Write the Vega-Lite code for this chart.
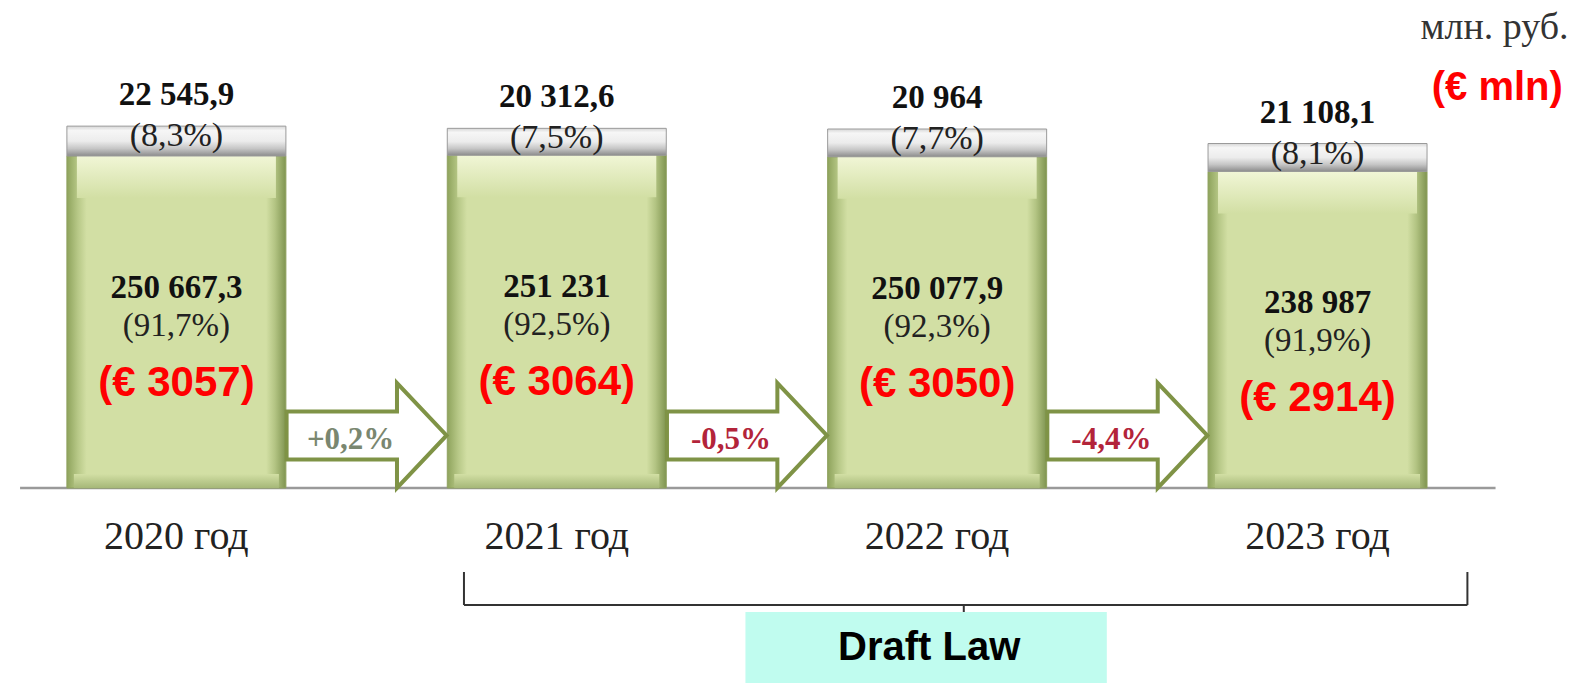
{
  "$schema": "https://vega.github.io/schema/vega-lite/v6.json",
  "width": 1581,
  "height": 683,
  "padding": 0,
  "autosize": {"type": "fit", "contains": "padding"},
  "background": "white",
  "config": {"view": {"stroke": null}},
  "datasets": {
    "bars": [
      {"year": "2020 год", "idx": 0, "main": 250667.3, "other": 22545.9, "total": 273213.2, "main_label": "250 667,3", "main_pct": "(91,7%)", "eur": "(€ 3057)", "other_label": "22 545,9", "other_pct": "(8,3%)"},
      {"year": "2021 год", "idx": 1, "main": 251231, "other": 20312.6, "total": 271543.6, "main_label": "251 231", "main_pct": "(92,5%)", "eur": "(€ 3064)", "other_label": "20 312,6", "other_pct": "(7,5%)"},
      {"year": "2022 год", "idx": 2, "main": 250077.9, "other": 20964, "total": 271041.9, "main_label": "250 077,9", "main_pct": "(92,3%)", "eur": "(€ 3050)", "other_label": "20 964", "other_pct": "(7,7%)"},
      {"year": "2023 год", "idx": 3, "main": 238987, "other": 21108.1, "total": 260095.1, "main_label": "238 987", "main_pct": "(91,9%)", "eur": "(€ 2914)", "other_label": "21 108,1", "other_pct": "(8,1%)"}
    ],
    "changes": [
      {"gap": 0.5, "change": "+0,2%", "dir": "up"},
      {"gap": 1.5, "change": "-0,5%", "dir": "down"},
      {"gap": 2.5, "change": "-4,4%", "dir": "down"}
    ],
    "one": [{"note": "annotation"}]
  },
  "layer": [
    {
      "data": {"name": "one"},
      "mark": {"type": "rule", "color": "#9a9a9a", "strokeWidth": 2.5},
      "encoding": {
        "x": {"datum": -0.411, "type": "quantitative", "scale": {"domain": [-0.4506, 3.6795], "nice": false, "zero": false}, "axis": null},
        "x2": {"datum": 3.468},
        "y": {"datum": 0, "type": "quantitative", "scale": {"domain": [-147225, 368440], "nice": false, "zero": false}, "axis": null}
      }
    },
    {
      "data": {"name": "one"},
      "mark": {"type": "rule", "color": "#333333", "strokeWidth": 2},
      "encoding": {
        "x": {"datum": 0.756, "type": "quantitative", "axis": null},
        "y": {"datum": -63420, "type": "quantitative", "axis": null},
        "y2": {"datum": -88335}
      }
    },
    {
      "data": {"name": "one"},
      "mark": {"type": "rule", "color": "#333333", "strokeWidth": 2},
      "encoding": {
        "x": {"datum": 3.394, "type": "quantitative", "axis": null},
        "y": {"datum": -63420, "type": "quantitative", "axis": null},
        "y2": {"datum": -88335}
      }
    },
    {
      "data": {"name": "one"},
      "mark": {"type": "rule", "color": "#333333", "strokeWidth": 2},
      "encoding": {
        "x": {"datum": 0.756, "type": "quantitative", "axis": null},
        "x2": {"datum": 3.394},
        "y": {"datum": -88335, "type": "quantitative", "axis": null}
      }
    },
    {
      "data": {"name": "one"},
      "mark": {"type": "rule", "color": "#333333", "strokeWidth": 2},
      "encoding": {
        "x": {"datum": 2.07, "type": "quantitative", "axis": null},
        "y": {"datum": -88335, "type": "quantitative", "axis": null},
        "y2": {"datum": -95130}
      }
    },
    {
      "data": {"name": "one"},
      "mark": {"type": "rect", "color": "#c0fcef"},
      "encoding": {
        "x": {"datum": 1.496, "type": "quantitative", "axis": null},
        "x2": {"datum": 2.446},
        "y": {"datum": -93620, "type": "quantitative", "axis": null},
        "y2": {"datum": -147225}
      }
    },
    {
      "data": {"name": "one"},
      "mark": {"type": "text", "text": "Draft Law", "font": "Liberation Sans", "fontWeight": "bold", "fontSize": 40, "color": "#000000", "align": "center", "baseline": "middle"},
      "encoding": {
        "x": {"datum": 1.979, "type": "quantitative", "axis": null},
        "y": {"datum": -120800, "type": "quantitative", "axis": null}
      }
    },
    {
      "data": {"name": "one"},
      "mark": {"type": "text", "text": "млн. руб.", "font": "Liberation Serif", "fontSize": 38, "color": "#333333", "align": "right", "baseline": "middle"},
      "encoding": {
        "x": {"datum": 3.66, "type": "quantitative", "axis": null},
        "y": {"datum": 347300, "type": "quantitative", "axis": null}
      }
    },
    {
      "data": {"name": "one"},
      "mark": {"type": "text", "text": "(€ mln)", "font": "Liberation Sans", "fontWeight": "bold", "fontSize": 40, "color": "#ff0000", "align": "right", "baseline": "middle"},
      "encoding": {
        "x": {"datum": 3.645, "type": "quantitative", "axis": null},
        "y": {"datum": 302000, "type": "quantitative", "axis": null}
      }
    },
    {
      "data": {"name": "bars"},
      "mark": {"type": "bar", "orient": "vertical", "width": 219, "stroke": "#8fa15f", "strokeWidth": 1,
        "fill": {"gradient": "linear", "x1": 0, "y1": 0, "x2": 1, "y2": 0,
          "stops": [{"offset": 0, "color": "#8ea35c"}, {"offset": 0.05, "color": "#b7c887"}, {"offset": 0.09, "color": "#d2dfa4"}, {"offset": 0.91, "color": "#d2dfa4"}, {"offset": 0.95, "color": "#b3c483"}, {"offset": 1, "color": "#7f9450"}]}},
      "encoding": {
        "x": {"field": "idx", "type": "quantitative", "axis": null},
        "y": {"field": "main", "type": "quantitative", "axis": null},
        "y2": {"datum": 0}
      }
    },
    {
      "data": {"name": "bars"},
      "mark": {"type": "bar", "orient": "vertical", "width": 199, "y2Offset": 42,
        "fill": {"gradient": "linear", "x1": 0, "y1": 0, "x2": 0, "y2": 1,
          "stops": [{"offset": 0, "color": "#f1f6d6"}, {"offset": 1, "color": "#d2dfa4"}]}},
      "encoding": {
        "x": {"field": "idx", "type": "quantitative", "axis": null},
        "y": {"field": "main", "type": "quantitative", "axis": null},
        "y2": {"field": "main"}
      }
    },
    {
      "data": {"name": "bars"},
      "mark": {"type": "bar", "orient": "vertical", "width": 205, "yOffset": -14,
        "fill": {"gradient": "linear", "x1": 0, "y1": 0, "x2": 0, "y2": 1,
          "stops": [{"offset": 0, "color": "#d2dfa4"}, {"offset": 1, "color": "#a6b878"}]}},
      "encoding": {
        "x": {"field": "idx", "type": "quantitative", "axis": null},
        "y": {"datum": 0, "type": "quantitative", "axis": null},
        "y2": {"datum": 0}
      }
    },
    {
      "data": {"name": "bars"},
      "mark": {"type": "bar", "orient": "vertical", "width": 219, "stroke": "#9a9a9a", "strokeWidth": 1,
        "fill": {"gradient": "linear", "x1": 0, "y1": 0, "x2": 0, "y2": 1,
          "stops": [{"offset": 0, "color": "#d6d6d6"}, {"offset": 0.15, "color": "#f6f6f6"}, {"offset": 0.5, "color": "#ececec"}, {"offset": 0.75, "color": "#c6c6c6"}, {"offset": 1, "color": "#8c8c8c"}]}},
      "encoding": {
        "x": {"field": "idx", "type": "quantitative", "axis": null},
        "y": {"field": "total", "type": "quantitative", "axis": null},
        "y2": {"field": "main"}
      }
    },
    {
      "data": {"name": "changes"},
      "mark": {"type": "point", "filled": true, "fill": "#ffffff", "stroke": "#7f9346", "strokeWidth": 4, "opacity": 1, "fillOpacity": 1, "strokeOpacity": 1, "size": 25600,
        "shape": "M-1,-0.3L0.38,-0.3L0.38,-0.656L1,0L0.38,0.656L0.38,0.3L-1,0.3Z"},
      "encoding": {
        "x": {"field": "gap", "type": "quantitative", "axis": null},
        "y": {"datum": 39640, "type": "quantitative", "axis": null}
      }
    },
    {
      "data": {"name": "changes"},
      "mark": {"type": "text", "font": "Liberation Serif", "fontWeight": "bold", "fontSize": 31, "align": "center", "baseline": "middle", "dx": -16, "dy": 5},
      "encoding": {
        "x": {"field": "gap", "type": "quantitative", "axis": null},
        "y": {"datum": 39640, "type": "quantitative", "axis": null},
        "text": {"field": "change"},
        "color": {"field": "dir", "type": "nominal", "scale": {"domain": ["up", "down"], "range": ["#7a8770", "#b3243a"]}, "legend": null}
      }
    },
    {
      "data": {"name": "bars"},
      "mark": {"type": "text", "font": "Liberation Serif", "fontWeight": "bold", "fontSize": 33, "color": "#111111", "align": "center", "baseline": "middle", "dy": -31},
      "encoding": {
        "x": {"field": "idx", "type": "quantitative", "axis": null},
        "y": {"field": "total", "type": "quantitative", "axis": null},
        "text": {"field": "other_label"}
      }
    },
    {
      "data": {"name": "bars"},
      "mark": {"type": "text", "font": "Liberation Serif", "fontSize": 34, "color": "#222222", "align": "center", "baseline": "middle", "dy": 10},
      "encoding": {
        "x": {"field": "idx", "type": "quantitative", "axis": null},
        "y": {"field": "total", "type": "quantitative", "axis": null},
        "text": {"field": "other_pct"}
      }
    },
    {
      "data": {"name": "bars"},
      "mark": {"type": "text", "font": "Liberation Serif", "fontWeight": "bold", "fontSize": 33, "color": "#111111", "align": "center", "baseline": "middle", "dy": 132},
      "encoding": {
        "x": {"field": "idx", "type": "quantitative", "axis": null},
        "y": {"field": "main", "type": "quantitative", "axis": null},
        "text": {"field": "main_label"}
      }
    },
    {
      "data": {"name": "bars"},
      "mark": {"type": "text", "font": "Liberation Serif", "fontSize": 33, "color": "#222222", "align": "center", "baseline": "middle", "dy": 170},
      "encoding": {
        "x": {"field": "idx", "type": "quantitative", "axis": null},
        "y": {"field": "main", "type": "quantitative", "axis": null},
        "text": {"field": "main_pct"}
      }
    },
    {
      "data": {"name": "bars"},
      "mark": {"type": "text", "font": "Liberation Sans", "fontWeight": "bold", "fontSize": 42, "color": "#ff0000", "align": "center", "baseline": "middle", "dy": 227},
      "encoding": {
        "x": {"field": "idx", "type": "quantitative", "axis": null},
        "y": {"field": "main", "type": "quantitative", "axis": null},
        "text": {"field": "eur"}
      }
    },
    {
      "data": {"name": "bars"},
      "mark": {"type": "text", "font": "Liberation Serif", "fontSize": 40, "color": "#222222", "align": "center", "baseline": "middle"},
      "encoding": {
        "x": {"field": "idx", "type": "quantitative", "axis": null},
        "y": {"datum": -37000, "type": "quantitative", "axis": null},
        "text": {"field": "year"}
      }
    }
  ]
}
